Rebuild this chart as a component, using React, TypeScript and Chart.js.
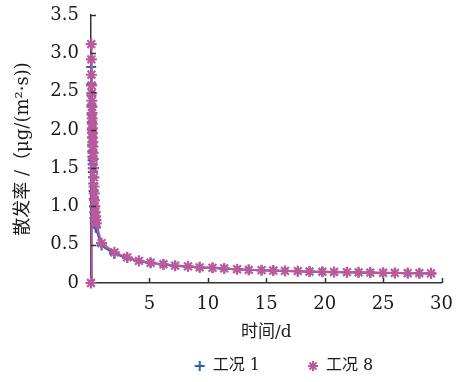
import React, { useEffect, useRef } from "react";
import { Chart, registerables } from "chart.js";

Chart.register(...registerables);

// 工况 1 (blue, + markers)
const days1: number[] = [0, 0.02, 0.03, 0.04, 0.05, 0.06, 0.07, 0.08, 0.09, 0.10, 0.11, 0.12, 0.13, 0.14, 0.15, 0.16, 0.18, 0.20, 0.22, 0.24, 0.26, 0.28, 0.30, 0.33, 0.36, 0.40,
  0.9, 2.0, 3.1, 4.1, 5.1, 6.2, 7.2, 8.3, 9.3, 10.4, 11.4, 12.5, 13.5, 14.6, 15.6, 16.6, 17.7, 18.7, 19.8, 20.8, 21.9, 22.9, 23.9, 25.0, 26.0, 27.1, 28.1, 29.1];
const rate1: number[] = [0, 2.82, 2.6, 2.45, 2.32, 2.2, 2.1, 2.0, 1.9, 1.8, 1.72, 1.65, 1.6, 1.55, 1.5, 1.45, 1.38, 1.3, 1.2, 1.1, 1.0, 0.92, 0.85, 0.8, 0.76, 0.72,
  0.49, 0.38, 0.325, 0.285, 0.26, 0.24, 0.222, 0.214, 0.202, 0.195, 0.187, 0.178, 0.17, 0.166, 0.161, 0.156, 0.152, 0.148, 0.145, 0.142, 0.139, 0.137, 0.134, 0.132, 0.13, 0.128, 0.126, 0.124];

// 工况 8 (pink, * markers)
const days8: number[] = [0, 0.02, 0.03, 0.04, 0.05, 0.06, 0.07, 0.08, 0.09, 0.10, 0.11, 0.12, 0.13, 0.14, 0.15, 0.16, 0.18, 0.20, 0.22, 0.24, 0.26, 0.28, 0.30, 0.33, 0.36, 0.39, 0.42, 0.46,
  0.9, 2.0, 3.1, 4.1, 5.1, 6.2, 7.2, 8.3, 9.3, 10.4, 11.4, 12.5, 13.5, 14.6, 15.6, 16.6, 17.7, 18.7, 19.8, 20.8, 21.9, 22.9, 23.9, 25.0, 26.0, 27.1, 28.1, 29.1];
const rate8: number[] = [0, 3.12, 2.92, 2.72, 2.58, 2.48, 2.38, 2.3, 2.22, 2.15, 2.08, 2.02, 1.96, 1.9, 1.84, 1.78, 1.7, 1.62, 1.5, 1.38, 1.26, 1.17, 1.08, 1.0, 0.93, 0.87, 0.82, 0.78,
  0.52, 0.40, 0.335, 0.29, 0.265, 0.245, 0.226, 0.218, 0.205, 0.198, 0.19, 0.18, 0.172, 0.168, 0.163, 0.158, 0.154, 0.15, 0.147, 0.144, 0.141, 0.139, 0.136, 0.134, 0.132, 0.13, 0.128, 0.126];

const seriesNames: string[] = ["工况 1", "工况 8"];
const xTicks: number[] = [0, 5, 10, 15, 20, 25, 30];
const yTicks: number[] = [0, 0.5, 1.0, 1.5, 2.0, 2.5, 3.0, 3.5];
const xTitle = "时间/d";
const yTitle = "散发率 /（μg/(m²·s))";

const BLUE = "#2f63b0";
const PINK = "#b85a9c";
const AXIS = "#333333";
const TEXT = "#1a1a1a";
const FONT = '"DejaVu Serif", "Noto Sans CJK SC", serif';

const inwardTicks = {
  id: "inwardTicks",
  afterDraw(chart: any) {
    const { ctx, chartArea } = chart;
    const xs = chart.scales.x;
    const ys = chart.scales.y;
    ctx.save();
    ctx.strokeStyle = AXIS;
    ctx.lineWidth = 1.5;
    ctx.beginPath();
    xTicks.forEach((v) => {
      if (v === 0) return;
      const px = Math.round(xs.getPixelForValue(v)) + 0.5;
      ctx.moveTo(px, chartArea.bottom);
      ctx.lineTo(px, chartArea.bottom - 5);
    });
    yTicks.forEach((v) => {
      if (v === 0) return;
      const py = Math.round(ys.getPixelForValue(v)) + 0.5;
      ctx.moveTo(chartArea.left, py);
      ctx.lineTo(chartArea.left + 5, py);
    });
    ctx.stroke();
    ctx.restore();
  },
};

const customLegend = {
  id: "customLegend",
  afterDraw(chart: any) {
    const { ctx } = chart;
    const y = 366;
    const r = 5;
    const gapMarker = 8;
    const gapItems = 48;
    ctx.save();
    ctx.font = `16px ${FONT}`;
    ctx.textBaseline = "middle";
    const items = chart.data.datasets.map((ds: any) => ({
      label: ds.label as string,
      color: ds.borderColor as string,
      style: ds.pointStyle as string,
      w: ctx.measureText(ds.label).width,
    }));
    const total = items.reduce((s: number, it: any) => s + 2 * r + gapMarker + it.w, 0) + gapItems * (items.length - 1);
    let x = 284 - total / 2;
    items.forEach((it: any) => {
      const cx = x + r;
      ctx.strokeStyle = it.color;
      ctx.lineWidth = 2;
      ctx.beginPath();
      if (it.style === "cross") {
        ctx.moveTo(cx - r, y);
        ctx.lineTo(cx + r, y);
        ctx.moveTo(cx, y - r);
        ctx.lineTo(cx, y + r);
      } else {
        for (let k = 0; k < 4; k++) {
          const a = (k * Math.PI) / 4;
          ctx.moveTo(cx - r * Math.cos(a), y - r * Math.sin(a));
          ctx.lineTo(cx + r * Math.cos(a), y + r * Math.sin(a));
        }
      }
      ctx.stroke();
      ctx.fillStyle = TEXT;
      ctx.fillText(it.label, x + 2 * r + gapMarker, y);
      x += 2 * r + gapMarker + it.w + gapItems;
    });
    ctx.restore();
  },
};

export default function App() {
  const ref = useRef<HTMLCanvasElement | null>(null);
  useEffect(() => {
    if (!ref.current) return;
    const chart = new Chart(ref.current, {
      type: "line",
      data: {
        datasets: [
          {
            label: seriesNames[0],
            data: days1.map((d, i) => ({ x: d, y: rate1[i] })),
            borderColor: BLUE,
            backgroundColor: BLUE,
            pointStyle: "cross",
            pointRadius: 5,
            pointBorderWidth: 2,
            borderWidth: 2,
            order: 2,
            tension: 0,
            clip: false,
          },
          {
            label: seriesNames[1],
            data: days8.map((d, i) => ({ x: d, y: rate8[i] })),
            borderColor: PINK,
            backgroundColor: PINK,
            pointStyle: "star",
            pointRadius: 5.5,
            pointBorderWidth: 2.2,
            borderWidth: 2,
            order: 1,
            tension: 0,
            clip: false,
          },
        ],
      },
      options: {
        responsive: false,
        animation: false,
        layout: { padding: { top: 15, right: 11, left: 13, bottom: 30 } },
        plugins: {
          tooltip: { enabled: false },
          legend: { display: false },
        },
        scales: {
          x: {
            type: "linear",
            min: 0,
            max: 30,
            afterBuildTicks: (s: any) => {
              s.ticks = xTicks.map((v) => ({ value: v }));
            },
            afterFit: (s: any) => {
              s.height = 69;
            },
            ticks: {
              color: TEXT,
              font: { family: FONT, size: 18 },
              padding: 3,
              maxRotation: 0,
              callback: (v: any) => (v === 0 ? "" : String(v)),
            },
            grid: { display: false },
            border: { display: true, color: AXIS, width: 1.5 },
            title: {
              display: true,
              text: xTitle,
              color: TEXT,
              font: { family: FONT, size: 17 },
              padding: { top: 6, bottom: 9 },
            },
          },
          y: {
            type: "linear",
            min: 0,
            max: 3.5,
            afterBuildTicks: (s: any) => {
              s.ticks = yTicks.map((v) => ({ value: v }));
            },
            afterFit: (s: any) => {
              s.width = 78;
            },
            ticks: {
              color: TEXT,
              font: { family: FONT, size: 18 },
              padding: 4,
              callback: (v: any) => (v === 0 ? "0" : Number(v).toFixed(1)),
            },
            grid: { display: false },
            border: { display: true, color: AXIS, width: 1.5 },
            title: {
              display: true,
              text: yTitle,
              color: TEXT,
              font: { family: FONT, size: 18 },
              padding: { top: 0, bottom: 4 },
            },
          },
        },
      },
      plugins: [inwardTicks, customLegend],
    });
    return () => chart.destroy();
  }, []);
  return (
    <div style={{ position: "absolute", left: 0, top: 0, width: 456, height: 382, background: "#fff" }}>
      <canvas ref={ref} width={456} height={382} />
    </div>
  );
}
